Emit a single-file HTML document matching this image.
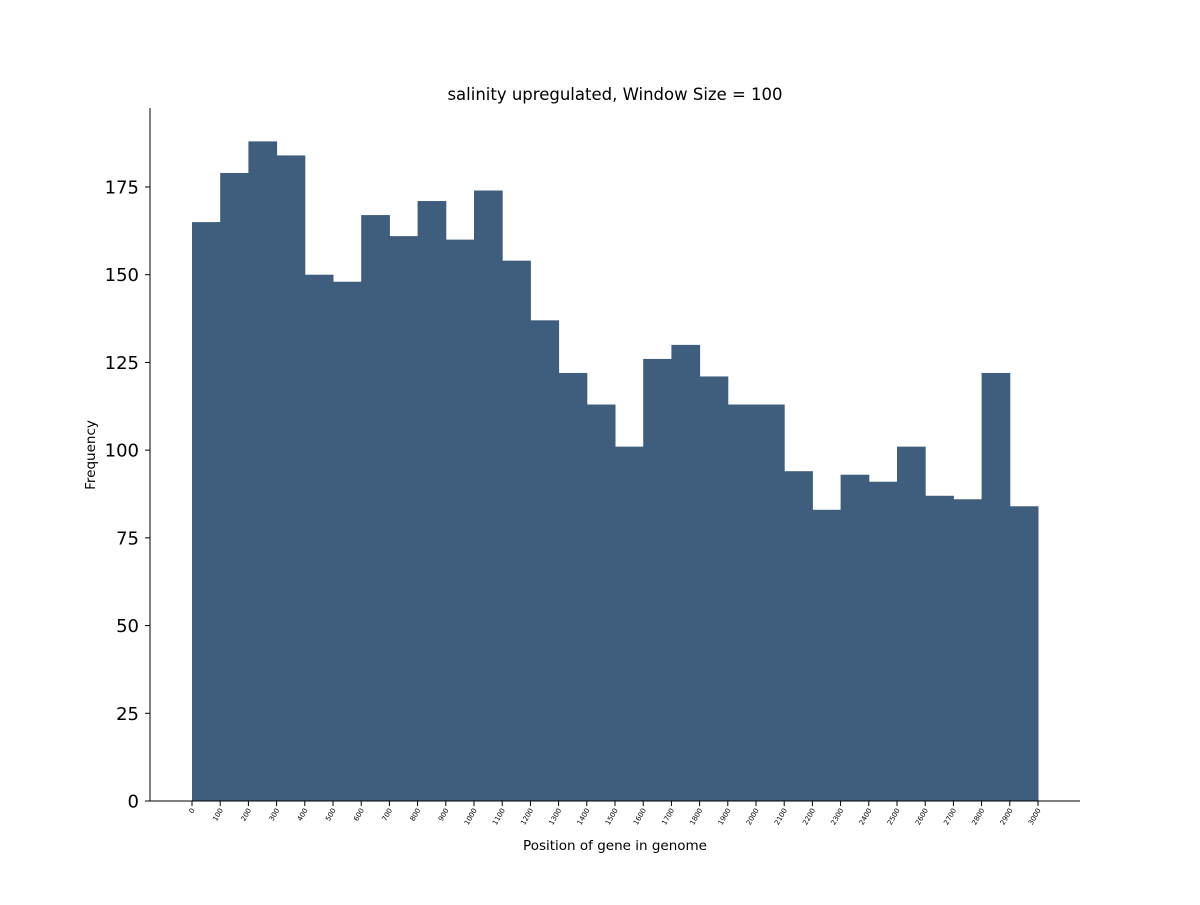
<!DOCTYPE html>
<html><head><meta charset="utf-8"><style>
body{margin:0;background:#fff}
text{font-family:"DejaVu Sans","Liberation Sans",sans-serif}
</style></head><body>
<svg id="chart" width="1200" height="900" xmlns="http://www.w3.org/2000/svg">
<rect width="1200" height="900" fill="#fff"/>
<text x="615" y="100" font-size="16.5" text-anchor="middle">salinity upregulated, Window Size = 100</text>
<g id="bars"></g>
<g id="yticks"></g>
<g id="xticks"></g>
<line x1="150" y1="108" x2="150" y2="801" stroke="#000" stroke-width="1"/>
<line x1="150" y1="801" x2="1080" y2="801" stroke="#000" stroke-width="1"/>
<text transform="translate(95,455) rotate(-90)" font-size="13.5" text-anchor="middle">Frequency</text>
<text x="615" y="850" font-size="13.5" text-anchor="middle">Position of gene in genome</text>
</svg>
<script>
const binStarts=[0,100,200,300,400,500,600,700,800,900,1000,1100,1200,1300,1400,1500,1600,1700,1800,1900,2000,2100,2200,2300,2400,2500,2600,2700,2800,2900];
const counts=[165,179,188,184,150,148,167,161,171,160,174,154,137,122,113,101,126,130,121,113,113,94,83,93,91,101,87,86,122,84];
const binWidth=100;
const xTickLabels=[0,100,200,300,400,500,600,700,800,900,1000,1100,1200,1300,1400,1500,1600,1700,1800,1900,2000,2100,2200,2300,2400,2500,2600,2700,2800,2900,3000];
const yTickLabels=[0,25,50,75,100,125,150,175];
const NS="http://www.w3.org/2000/svg";
const x=v=>192+v*(1038-192)/3000;
const y=v=>801-v*(801-187)/175;
const bars=document.getElementById('bars');
counts.forEach((c,i)=>{
 const r=document.createElementNS(NS,'rect');
 
 
 const x0=x(binStarts[i]),x1=x(binStarts[i]+binWidth);
 r.setAttribute('x',x0);r.setAttribute('width',x1-x0+0.5);
 r.setAttribute('y',y(c));r.setAttribute('height',y(0)-y(c));
 r.setAttribute('fill','#3f5e7d');
 bars.appendChild(r);
});
const yt=document.getElementById('yticks');
yTickLabels.forEach(v=>{
 const g=document.createElementNS(NS,'g');
 
 
 g.innerHTML=`<line x1="145" x2="150" y1="${y(v)}" y2="${y(v)}" stroke="#000"/><text x="139" y="${y(v)+6.5}" font-size="18" text-anchor="end">${v}</text>`;
 yt.appendChild(g);
});
const xt=document.getElementById('xticks');
xTickLabels.forEach(v=>{
 const g=document.createElementNS(NS,'g');
 
 
 const px=x(v);
 g.innerHTML=`<line x1="${px}" x2="${px}" y1="801" y2="806" stroke="#000"/><text transform="translate(${px+3},810) rotate(-60)" font-size="7" text-anchor="end">${v}</text>`;
 xt.appendChild(g);
});
</script>
</body></html>
